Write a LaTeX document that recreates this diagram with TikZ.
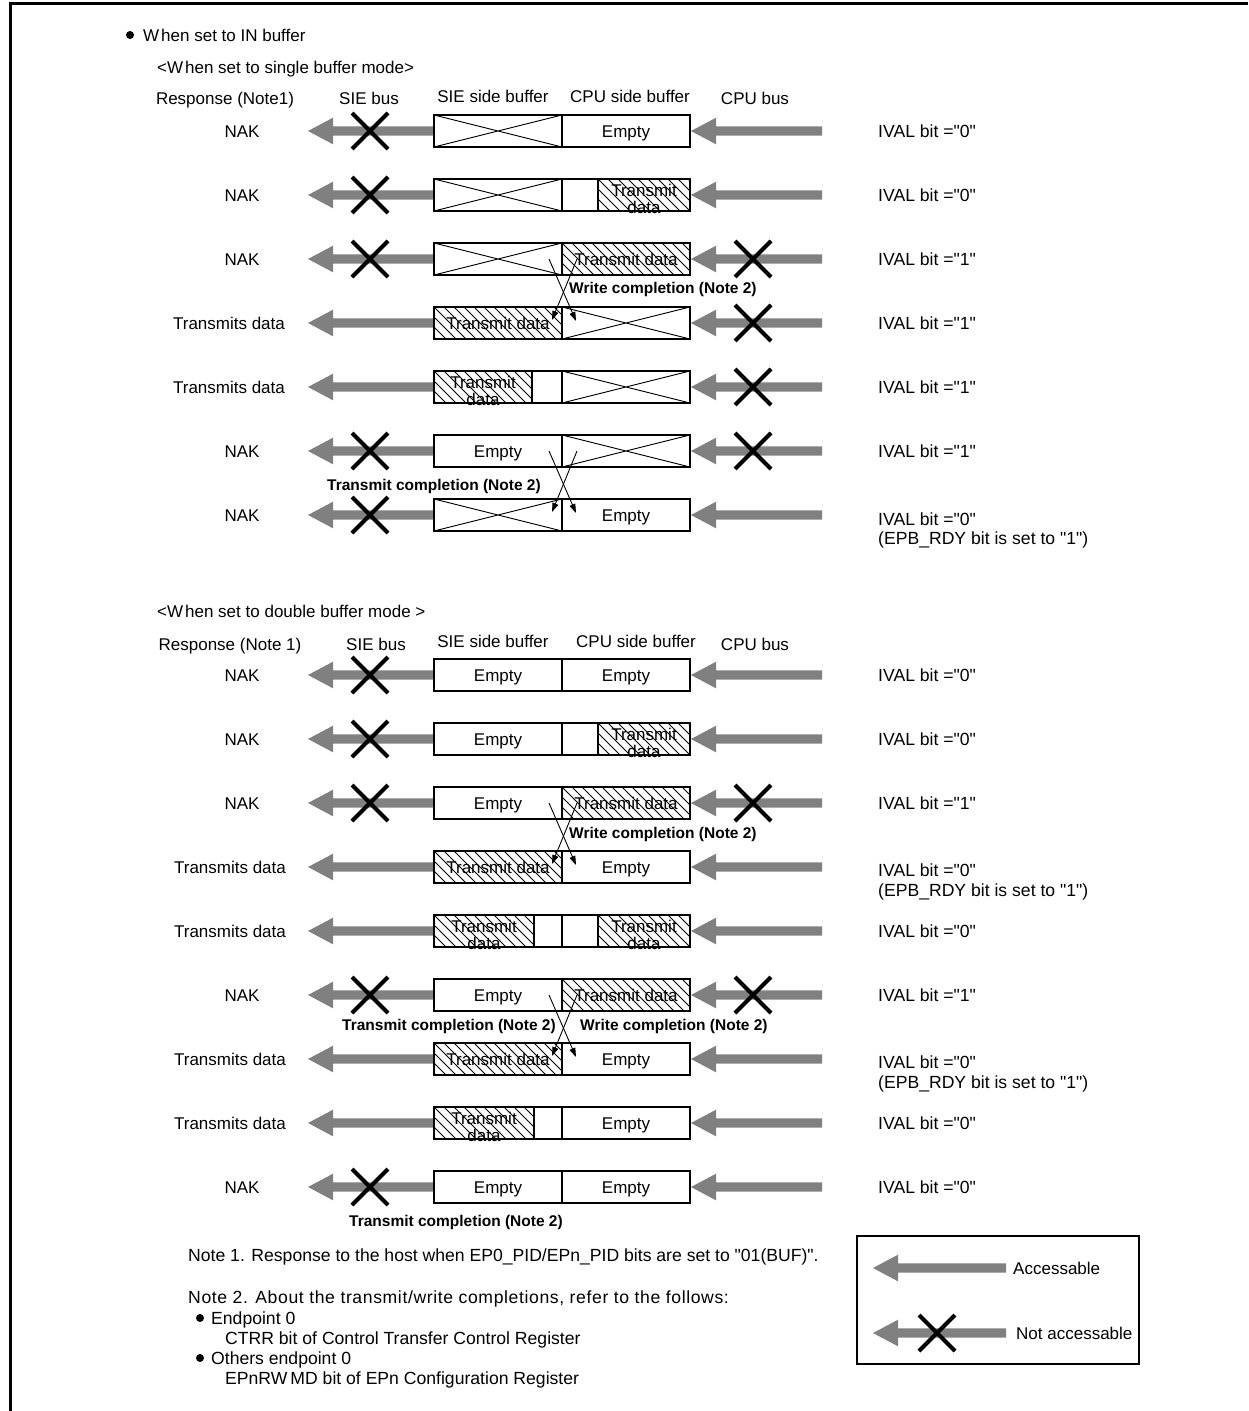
\documentclass[tikz,border=0pt]{standalone}
\usepackage{fontspec}
\setmainfont{Liberation Sans}[Ligatures=TeXOff]
\usetikzlibrary{arrows.meta}
\definecolor{arrgray}{HTML}{808080}
\newcommand\fsN{\fontsize{17}{17}\selectfont}
\newcommand\fsR{\fontsize{17.6}{17}\selectfont}
\newcommand\fsB{\fontsize{15.5}{16}\selectfont\bfseries}
\tikzset{
  boxline/.style={draw=black, line width=1.8pt},
  diagline/.style={draw=black, line width=0.9pt},
  hatchline/.style={draw=black, line width=0.8pt},
  xline/.style={draw=black, line width=4pt},
  txt/.style={font=\fsN, inner sep=0pt, anchor=base},
  txtw/.style={font=\fsN, inner sep=0pt, anchor=base west},
  rtxt/.style={font=\fsR, inner sep=0pt, anchor=base west},
  bl/.style={font=\fsB, inner sep=0pt, anchor=base west},
  carrow/.style={draw=black, line width=0.9pt, -{Triangle[length=9pt,width=6pt]}},
}
% gray arrow: #1 tail x, #2 tip x, #3 y
\newcommand\garr[3]{\fill[arrgray] (#1,#3-4.6) -- (#2+25,#3-4.6) -- (#2+25,#3-13.3) -- (#2,#3) -- (#2+25,#3+13.3) -- (#2+25,#3+4.6) -- (#1,#3+4.6) -- cycle;}
\newcommand\xmk[2]{\draw[xline] (#1-18,#2-18) -- (#1+18,#2+18) (#1-18,#2+18) -- (#1+18,#2-18);}
\newcommand\rowbase[1]{\garr{435}{308}{#1}\garr{822}{691}{#1}\fill[white] (434,#1-16) rectangle (690,#1+16);}
\newcommand\rowframe[1]{\draw[boxline] (434,#1-16) rectangle (690,#1+16) (562,#1-16) -- (562,#1+16);}
\newcommand\crossbox[3]{\draw[diagline] (#1,#3-16) -- (#2,#3+16) (#1,#3+16) -- (#2,#3-16);}
\newcommand\hatchbox[3]{\begin{scope}\clip (#1,#3-16) rectangle (#2,#3+16);
  \foreach \k in {0,10,...,180}{\draw[hatchline] ({#1-40+\k},#3-16) -- ++(40,40);}\end{scope}
  \draw[boxline] (#1,#3-16) rectangle (#2,#3+16);}
\newcommand\xcross[1]{\draw[carrow] (549,#1) -- (576,#1+62); \draw[carrow] (577,#1) -- (552,#1+61);}

\begin{document}
\begin{tikzpicture}[x=1pt,y=-1pt]
\useasboundingbox (0,0) rectangle (1248,1411);
\fill[white] (0,0) rectangle (1248,1411);
% frame
\draw[line width=3pt] (10.5,1411) -- (10.5,3) -- (1248,3);

% titles
\fill (130,35) circle (4);
\node[txtw] (title) at (143,41) {W\kern2pt hen set to IN buffer};
\node[txtw] (single) at (157,73) {<W\kern2pt hen set to single buffer mode>};
\node[txt] (hs1) at (225,104) {Response (Note1)};
\node[txt] (hs2) at (369,104) {SIE bus};
\node[txt] (hs3) at (493,102) {SIE side buffer};
\node[txt] (hs4) at (630,102) {CPU side buffer};
\node[txt] (hs5) at (755,104) {CPU bus};

% ---------- single buffer rows ----------
% row 1
\rowbase{131}\crossbox{434}{562}{131}
\node[txt] (s1e) at (626,137) {Empty};
\rowframe{131}\xmk{370}{131}
\node[txt] (s1l) at (242,137) {NAK};
\node[rtxt] (s1r) at (878,137) {IVAL bit ="0"};
% row 2
\rowbase{195}\crossbox{434}{562}{195}\hatchbox{598}{690}{195}
\node[txt] (s2a) at (644,196) {Transmit};
\node[txt] (s2b) at (644,213) {data};
\rowframe{195}\xmk{370}{195}
\node[txt] (s2l) at (242,201) {NAK};
\node[rtxt] (s2r) at (878,201) {IVAL bit ="0"};
% row 3
\rowbase{259}\crossbox{434}{562}{259}\hatchbox{562}{690}{259}
\node[txt] (s3a) at (626,265) {Transmit data};
\rowframe{259}\xmk{370}{259}\xmk{753}{259}
\node[txt] (s3l) at (242,265) {NAK};
\node[rtxt] (s3r) at (878,265) {IVAL bit ="1"};
% row 4
\rowbase{323}\hatchbox{434}{562}{323}\crossbox{562}{690}{323}
\node[txt] (s4a) at (498,329) {Transmit data};
\rowframe{323}\xmk{753}{323}
\node[txt] (s4l) at (229,329) {Transmits data};
\node[rtxt] (s4r) at (878,329) {IVAL bit ="1"};
% row 5
\rowbase{387}\hatchbox{434}{532}{387}\crossbox{562}{690}{387}
\node[txt] (s5a) at (483,388) {Transmit};
\node[txt] (s5b) at (483,405) {data};
\rowframe{387}\xmk{753}{387}
\node[txt] (s5l) at (229,393) {Transmits data};
\node[rtxt] (s5r) at (878,393) {IVAL bit ="1"};
% row 6
\rowbase{451}\crossbox{562}{690}{451}
\node[txt] (s6e) at (498,457) {Empty};
\rowframe{451}\xmk{370}{451}\xmk{753}{451}
\node[txt] (s6l) at (242,457) {NAK};
\node[rtxt] (s6r) at (878,457) {IVAL bit ="1"};
% row 7
\rowbase{515}\crossbox{434}{562}{515}
\node[txt] (s7e) at (626,521) {Empty};
\rowframe{515}\xmk{370}{515}
\node[txt] (s7l) at (242,521) {NAK};
\node[rtxt] (s7r) at (878,525) {IVAL bit ="0"};
\node[rtxt] (s7r2) at (878,544) {(EPB\_RDY bit is set to "1")};
% completions
\xcross{259}
\node[bl] (s34) at (569,293.5) {Write completion (Note 2)};
\xcross{451}
\node[bl] (s67) at (327,490.5) {Transmit completion (Note 2)};

% ---------- double buffer ----------
\node[txtw] (double) at (157,617) {<W\kern2pt hen set to double buffer mode >};
\node[txt] (hd1) at (230,650) {Response (Note 1)};
\node[txt] (hd2) at (376,650) {SIE bus};
\node[txt] (hd3) at (493,647) {SIE side buffer};
\node[txt] (hd4) at (636,647) {CPU side buffer};
\node[txt] (hd5) at (755,650) {CPU bus};
% row 1
\rowbase{675}
\node[txt] (d1a) at (498,681) {Empty};
\node[txt] (d1b) at (626,681) {Empty};
\rowframe{675}\xmk{370}{675}
\node[txt] (d1l) at (242,681) {NAK};
\node[rtxt] (d1r) at (878,681) {IVAL bit ="0"};
% row 2
\rowbase{739}\hatchbox{598}{690}{739}
\node[txt] (d2a) at (498,745) {Empty};
\node[txt] (d2b) at (644,740) {Transmit};
\node[txt] (d2c) at (644,757) {data};
\rowframe{739}\xmk{370}{739}
\node[txt] (d2l) at (242,745) {NAK};
\node[rtxt] (d2r) at (878,745) {IVAL bit ="0"};
% row 3
\rowbase{803}\hatchbox{562}{690}{803}
\node[txt] (d3a) at (498,809) {Empty};
\node[txt] (d3b) at (626,809) {Transmit data};
\rowframe{803}\xmk{370}{803}\xmk{753}{803}
\node[txt] (d3l) at (242,809) {NAK};
\node[rtxt] (d3r) at (878,809) {IVAL bit ="1"};
% row 4
\rowbase{867}\hatchbox{434}{562}{867}
\node[txt] (d4a) at (498,873) {Transmit data};
\node[txt] (d4b) at (626,873) {Empty};
\rowframe{867}
\node[txt] (d4l) at (230,873) {Transmits data};
\node[rtxt] (d4r) at (878,876) {IVAL bit ="0"};
\node[rtxt] (d4r2) at (878,896) {(EPB\_RDY bit is set to "1")};
% row 5
\rowbase{931}\hatchbox{434}{534}{931}\hatchbox{598}{690}{931}
\node[txt] (d5a) at (484,932) {Transmit};
\node[txt] (d5b) at (484,949) {data};
\node[txt] (d5c) at (644,932) {Transmit};
\node[txt] (d5d) at (644,949) {data};
\rowframe{931}
\node[txt] (d5l) at (230,937) {Transmits data};
\node[rtxt] (d5r) at (878,937) {IVAL bit ="0"};
% row 6
\rowbase{995}\hatchbox{562}{690}{995}
\node[txt] (d6a) at (498,1001) {Empty};
\node[txt] (d6b) at (626,1001) {Transmit data};
\rowframe{995}\xmk{370}{995}\xmk{753}{995}
\node[txt] (d6l) at (242,1001) {NAK};
\node[rtxt] (d6r) at (878,1001) {IVAL bit ="1"};
% row 7
\rowbase{1059}\hatchbox{434}{562}{1059}
\node[txt] (d7a) at (498,1065) {Transmit data};
\node[txt] (d7b) at (626,1065) {Empty};
\rowframe{1059}
\node[txt] (d7l) at (230,1065) {Transmits data};
\node[rtxt] (d7r) at (878,1068) {IVAL bit ="0"};
\node[rtxt] (d7r2) at (878,1088) {(EPB\_RDY bit is set to "1")};
% row 8
\rowbase{1123}\hatchbox{434}{534}{1123}
\node[txt] (d8a) at (484,1124) {Transmit};
\node[txt] (d8b) at (484,1141) {data};
\node[txt] (d8c) at (626,1129) {Empty};
\rowframe{1123}
\node[txt] (d8l) at (230,1129) {Transmits data};
\node[rtxt] (d8r) at (878,1129) {IVAL bit ="0"};
% row 9
\rowbase{1187}
\node[txt] (d9a) at (498,1193) {Empty};
\node[txt] (d9b) at (626,1193) {Empty};
\rowframe{1187}\xmk{370}{1187}
\node[txt] (d9l) at (242,1193) {NAK};
\node[rtxt] (d9r) at (878,1193) {IVAL bit ="0"};
% completions
\xcross{803}
\node[bl] (d34) at (569,838.5) {Write completion (Note 2)};
\xcross{995}
\node[bl] (d67a) at (342,1030.5) {Transmit completion (Note 2)};
\node[bl] (d67b) at (580,1030.5) {Write completion (Note 2)};
\node[bl] (d9c) at (349,1226) {Transmit completion (Note 2)};

% ---------- notes ----------
\node[rtxt] (n1) at (188,1261) {Note 1. Response to the host when EP0\_PID/EPn\_PID bits are set to "01(BUF)".};
\node[rtxt] (n2) at (188,1303) {\addfontfeature{LetterSpace=3.5}Note 2. About the transmit/write completions, refer to the follows:};
\fill (200,1318) circle (4);
\node[rtxt] (n3) at (211,1324) {Endpoint 0};
\node[rtxt] (n4) at (225,1344) {CTRR bit of Control Transfer Control Register};
\fill (200,1358) circle (4);
\node[rtxt] (n5) at (211,1364) {Others endpoint 0};
\node[rtxt] (n6) at (225,1384) {EPnRW\kern3pt MD bit of EPn Configuration Register};

% ---------- legend ----------
\draw[line width=1.8pt] (857,1236) rectangle (1139,1364);
\garr{1006}{873}{1268}
\node[txtw] (acc) at (1013,1274) {Accessable};
\garr{1006}{873}{1333}
\xmk{937}{1333}
\node[txtw] (nacc) at (1016,1339) {Not accessable};
\end{tikzpicture}
\end{document}
